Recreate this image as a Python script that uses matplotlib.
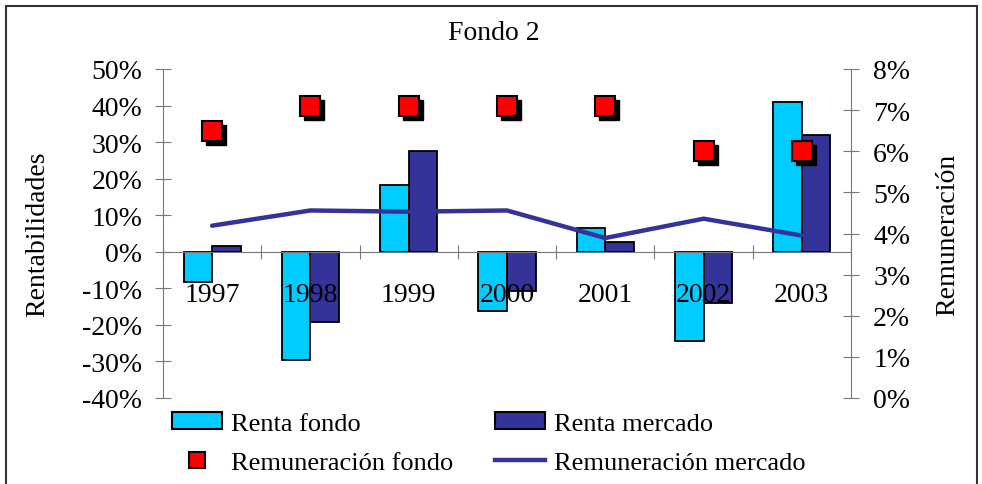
import matplotlib
matplotlib.use("Agg")
import matplotlib.pyplot as plt
import matplotlib.transforms as mtransforms
from matplotlib.patches import Rectangle, Patch
from matplotlib.lines import Line2D
from matplotlib.ticker import PercentFormatter, FixedLocator
import numpy as np

plt.rcParams['font.family'] = ['Liberation Serif', 'DejaVu Serif']
plt.rcParams['axes.unicode_minus'] = False

################ datos ################
anos = ["1997", "1998", "1999", "2000", "2001", "2002", "2003"]
renta_fondo = [-0.082, -0.295, 0.184, -0.161, 0.066, -0.243, 0.409]
renta_mercado = [0.017, -0.191, 0.277, -0.108, 0.027, -0.141, 0.319]
remun_fondo = [0.065, 0.071, 0.071, 0.071, 0.071, 0.060, 0.060]
remun_mercado = [0.0419, 0.0456, 0.0453, 0.0456, 0.0389, 0.0436, 0.0395]
ticks_izq = [-0.4, -0.3, -0.2, -0.1, 0.0, 0.1, 0.2, 0.3, 0.4, 0.5]
ticks_der = [0.0, 0.01, 0.02, 0.03, 0.04, 0.05, 0.06, 0.07, 0.08]

c_fondo = "#00CCFF"
c_mercado = "#333399"
gris = "#777777"
fs = 20

fig = plt.figure(figsize=(9.82, 4.85), dpi=100)
ax = fig.add_axes([163/982, 1-399/485, (851-163)/982, (399-70)/485])
ax2 = ax.twinx()

x = np.arange(len(anos))
w = 0.29
ax.bar(x - w/2, renta_fondo, w, color=c_fondo, edgecolor="black", linewidth=1.3, zorder=1)
ax.bar(x + w/2, renta_mercado, w, color=c_mercado, edgecolor="black", linewidth=1.3, zorder=1)
ax.set_axisbelow(False)

ax.set_xlim(-0.5, len(anos) - 0.5)
ax.set_ylim(-0.4, 0.5)
ax.set_yticks(ticks_izq)
ax.yaxis.set_major_formatter(PercentFormatter(1.0, decimals=0))

# eje x en el cero, marcas entre categorias
ax.spines['bottom'].set_position(('data', 0))
ax.spines['top'].set_visible(False)
ax.spines['right'].set_visible(False)
ax.xaxis.set_major_locator(FixedLocator(np.arange(-0.5, len(anos), 1.0)))
ax.xaxis.set_major_formatter(plt.NullFormatter())
ax.xaxis.set_minor_locator(FixedLocator(x))
ax.set_xticklabels(anos, minor=True)
ax.tick_params(axis='x', which='major', direction='inout', length=10, color=gris)
ax.tick_params(axis='x', which='minor', length=0, pad=22, labelsize=fs)
ax.tick_params(axis='y', direction='inout', length=12, color=gris, labelsize=fs, pad=9)
for s in ['left', 'bottom']:
    ax.spines[s].set_color(gris)
ax.set_ylabel("Rentabilidades", fontsize=fs)
ax.yaxis.set_label_coords(-(163-50)/688, 0.5)

# eje derecho: remuneracion
ax2.set_ylim(0, 0.08)
ax2.set_yticks(ticks_der)
ax2.yaxis.set_major_formatter(PercentFormatter(1.0, decimals=0))
ax2.tick_params(axis='y', direction='inout', length=12, color=gris, labelsize=fs, pad=10)
for s in ['top', 'left', 'bottom']:
    ax2.spines[s].set_visible(False)
ax2.spines['right'].set_color(gris)
ax2.set_ylabel("Remuneración", fontsize=fs)
ax2.yaxis.set_label_coords(1 + (935-851)/688, 0.5)

ax2.plot(x, remun_mercado, color=c_mercado, lw=3.2, solid_capstyle='round', zorder=3)
sombra = mtransforms.offset_copy(ax2.transData, fig=fig, x=4, y=-4, units='dots')
ax2.plot(x, remun_fondo, ls='none', marker='s', ms=15, mfc='black', mec='black',
         transform=sombra, zorder=4)
ax2.plot(x, remun_fondo, ls='none', marker='s', ms=15, mfc='red', mec='black',
         mew=1.5, zorder=5)

fig.text(494/982, 1-33/485, "Fondo 2", fontsize=20, ha='center', va='center')

handles = [
    Patch(facecolor=c_fondo, edgecolor='black', linewidth=1.5),
    Line2D([], [], ls='none', marker='s', ms=12, mfc='red', mec='black', mew=1.5),
    Patch(facecolor=c_mercado, edgecolor='black', linewidth=1.5),
    Line2D([], [], color=c_mercado, lw=3.2),
]
labels = ["Renta fondo", "Remuneración fondo", "Renta mercado", "Remuneración mercado"]
fig.legend(handles, labels, ncol=2, loc='upper left', bbox_to_anchor=(172/982, 1-413/485),
           frameon=False, fontsize=19, borderpad=0, borderaxespad=0,
           handlelength=1.9, handleheight=0.6, handletextpad=0.35,
           labelspacing=0.62, columnspacing=1.55)

fig.patches.append(Rectangle((6/982, -0.01), (977-6)/982, 1-7/485+0.01,
                             transform=fig.transFigure, fill=False,
                             edgecolor='#333333', linewidth=1.5))

fig.savefig("out.png", dpi=100)
